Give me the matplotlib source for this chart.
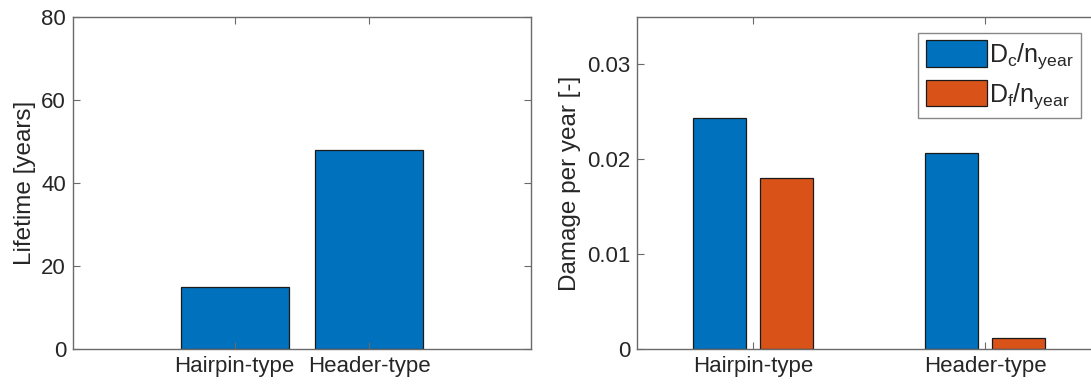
import matplotlib
matplotlib.use("Agg")
import matplotlib.pyplot as plt
import numpy as np

categories = ["Hairpin-type", "Header-type"]
lifetime_years = [15, 48]
damage_creep = [0.0243, 0.0207]
damage_fatigue = [0.0180, 0.0012]
series_labels = [r"$\mathregular{D_c/n_{year}}$", r"$\mathregular{D_f/n_{year}}$"]

plt.rcParams['font.family'] = ['Liberation Sans', 'DejaVu Sans']
plt.rcParams['mathtext.fontset'] = 'custom'
plt.rcParams['mathtext.rm'] = 'Liberation Sans'
plt.rcParams['mathtext.it'] = 'Liberation Sans'

BLUE = '#0072BD'
ORANGE = '#D95319'
TXT = '#262626'
SPINE = '#6a6a6a'
FS = 16
FSL = 17.5

W, H = 1091, 388
fig = plt.figure(figsize=(W/100, H/100), dpi=100)

def style(ax):
    for s in ax.spines.values():
        s.set_color(SPINE)
        s.set_linewidth(1.0)
    ax.tick_params(direction='in', length=5, width=0.8, color=SPINE,
                   labelcolor=TXT, labelsize=FS, top=True, right=True, pad=5)

# Left panel
ax1 = fig.add_axes([73/W, 1-349/H, 458/W, 332/H])
x = np.arange(1, len(categories)+1)
ax1.bar(x, lifetime_years, width=0.8, color=BLUE, edgecolor='#1a1a1a', linewidth=0.9)
ax1.set_xlim(-0.2, 3.2)
ax1.set_ylim(0, 80)
ax1.set_yticks([0, 20, 40, 60, 80])
ax1.set_xticks(x)
ax1.set_xticklabels(categories)
ax1.set_ylabel("Lifetime [years]", fontsize=FSL, color=TXT, labelpad=4)
style(ax1)

# Right panel
ax2 = fig.add_axes([637/W, 1-349/H, 464/W, 332/H])
bw = 0.23
off = 0.145
ax2.bar(x-off, damage_creep, width=bw, color=BLUE, edgecolor='#1a1a1a', linewidth=0.9,
        label=series_labels[0])
ax2.bar(x+off, damage_fatigue, width=bw, color=ORANGE, edgecolor='#1a1a1a', linewidth=0.9,
        label=series_labels[1])
ax2.set_xlim(0.5, 2.5)
ax2.set_ylim(0, 0.035)
ax2.set_yticks([0, 0.01, 0.02, 0.03])
ax2.set_yticklabels(["0", "0.01", "0.02", "0.03"])
ax2.set_xticks(x)
ax2.set_xticklabels(categories)
ax2.set_ylabel("Damage per year [-]", fontsize=FSL, color=TXT, labelpad=4)
style(ax2)

leg = ax2.legend(loc='upper right', bbox_to_anchor=(1081/W, 1-32.7/H),
                 bbox_transform=fig.transFigure, borderaxespad=0,
                 fontsize=18, frameon=True, fancybox=False,
                 handlelength=2.45, handleheight=1.25, handletextpad=0.08,
                 labelspacing=0.35, borderpad=0.3)
leg.get_frame().set_edgecolor(SPINE)
leg.get_frame().set_linewidth(1.0)
for t in leg.get_texts():
    t.set_color(TXT)

fig.savefig("out.png", dpi=100)
